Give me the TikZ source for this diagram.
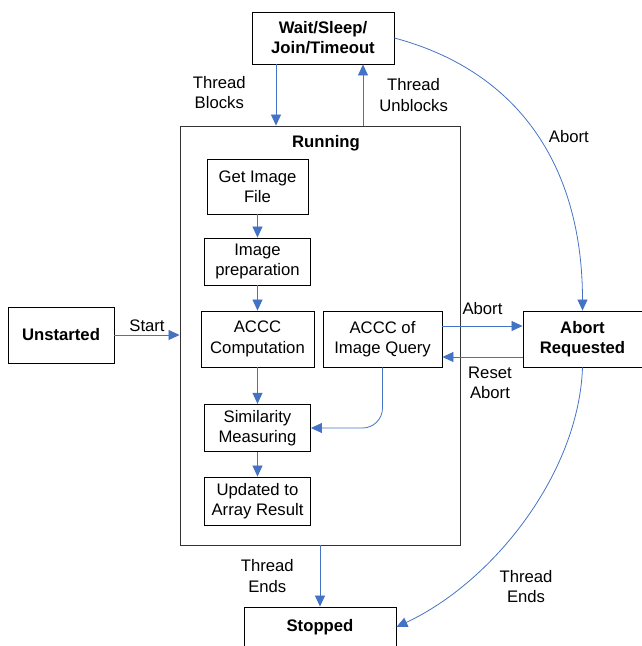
\documentclass[tikz,border=0pt]{standalone}
\usepackage{fontspec}
\setmainfont{Liberation Sans}
\usetikzlibrary{arrows.meta}
\definecolor{flowblue}{HTML}{4472C4}
\newcommand{\diagfont}{\fontsize{9.5}{11.5}\selectfont}
\tikzset{%
  >={Triangle[width=2mm,length=2.2mm]},
  % Specifications for style of nodes:
        statebase/.style = {rectangle, draw=black, line width=0.5pt,
                            text centered, font=\diagfont\bfseries},
         taskbase/.style = {rectangle, draw=black, line width=0.5pt,
                            text centered, font=\diagfont},
  state/.style = {statebase, minimum width=2.12cm, minimum height=1.12cm},
  task/.style = {taskbase, minimum width=2.12cm, minimum height=0.94cm},
  container/.style = {rectangle, draw=black!80, line width=0.5pt,
                      minimum width=5.6cm, minimum height=8.38cm},
  flow/.style = {->, draw=flowblue, line width=0.45pt}
}
\begin{document}
\begin{tikzpicture}[every node/.style={font=\diagfont}, node distance=1.5cm, align=center]
  \useasboundingbox (0,0) rectangle (12.84,-12.92);

  \node (running)  [container] at (6.4,-6.71) {};
  \node (runlabel) [font=\diagfont\bfseries] at (6.52,-2.86) {Running};

  \node (wait)     [state, minimum width=2.84cm, minimum height=1.04cm] at (6.46,-0.76) {Wait/Sleep/\\Join/Timeout};
  \node (unstarted)[state] at (1.22,-6.70) {Unstarted};
  \node (abortreq) [state, minimum width=2.38cm] at (11.65,-6.78) {Abort\\Requested};
  \node (stopped)  [state, minimum width=3.04cm, minimum height=0.8cm] at (6.4,-12.54) {Stopped};

  \node (getimage)  [task, minimum width=2.02cm, minimum height=1.1cm] at (5.15,-3.73) {Get Image\\File};
  \node (imageprep) [task, below of=getimage] {Image\\preparation};
  \node (accc)      [task, below of=imageprep, yshift=-0.05cm, minimum width=2.26cm, minimum height=1.12cm] {ACCC\\Computation};
  \node (query)     [task, right of=accc, xshift=1cm, minimum width=2.38cm, minimum height=1.12cm] {ACCC of\\Image Query};
  \node (similarity)[task, below of=accc, yshift=-0.28cm, minimum height=0.92cm] {Similarity\\Measuring};
  \node (updated)   [task, below of=similarity, yshift=0.04cm, minimum height=0.96cm] {Updated to\\Array Result};

  % transitions between states
  \draw[flow] ([xshift=-0.94cm]wait.south) -- node[left=4.8mm, yshift=0.5mm]{Thread\\Blocks} ([xshift=-0.94cm]wait.south |- running.north);
  \draw[flow] ([xshift=0.8cm]wait.south |- running.north) -- node[right=2mm]{Thread\\Unblocks} ([xshift=0.8cm]wait.south);
  \draw[flow] (wait.east) to[out=-15,in=90,looseness=1.05] node[pos=0.5, right, xshift=1mm]{Abort} (abortreq.north);
  \draw[flow] (unstarted.east) -- node[above, yshift=-0.5mm]{Start} (unstarted.east -| running.west);
  \draw[flow] ([yshift=0.26cm]query.east) -- node[above, yshift=1mm]{Abort} ([yshift=0.26cm]query.east -| abortreq.west);
  \draw[flow] ([yshift=-0.36cm]query.east -| abortreq.west) -- node[below, yshift=-0.8mm, xshift=1.5mm]{Reset\\Abort} ([yshift=-0.36cm]query.east);
  \draw[flow] (running.south) -- node[left=4mm]{Thread\\Ends} (stopped.north);
  \draw[flow] (abortreq.south) to[out=-92,in=25,looseness=0.85] node[pos=0.67, below right, xshift=1.5mm]{Thread\\Ends} (stopped.east);

  % steps inside running
  \draw[flow] (getimage) -- (imageprep);
  \draw[flow] (imageprep) -- (accc);
  \draw[flow] (accc) -- (similarity);
  \draw[flow] (similarity) -- (updated);
  \draw[flow, rounded corners=0.4cm] (query.south) |- (similarity.east);
\end{tikzpicture}
\end{document}
